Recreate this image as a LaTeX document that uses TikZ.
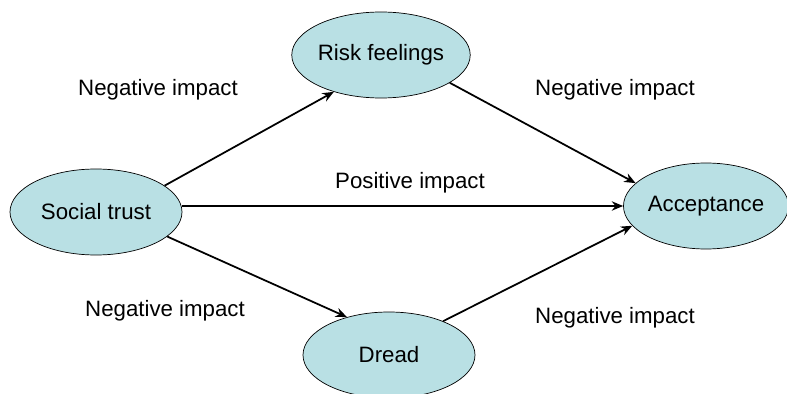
\documentclass[tikz,border=0pt]{standalone}
\usepackage{fontspec}
\setmainfont{Liberation Sans}
\usetikzlibrary{shapes.geometric,arrows.meta}
\definecolor{nodeblue}{RGB}{185,224,228}
\tikzset{
  factor/.style={ellipse,draw,line width=.6pt,fill=nodeblue,inner sep=0pt,
    minimum width=51.6mm,minimum height=25.8mm,font=\fontsize{19}{23}\selectfont},
  effect/.style={font=\fontsize{19}{23}\selectfont,inner sep=0pt},
  link/.style={line width=1.5pt,-{Stealth[length=3.4mm,width=2.8mm]}}
}
\begin{document}
\begin{tikzpicture}[x=.3mm,y=-.3mm]
    \useasboundingbox(0,0)rectangle(787,394);
    \node[factor](st)at(96,212){Social trust};
    \node[factor](rf)at(381,55){Risk feelings};
    \node[factor,minimum width=49.5mm](acc)at(706,206){Acceptance};
    \node[factor](dr)at(389,355){Dread};
    \node[effect](l1)at(158,90){Negative impact};
    \node[effect](l2)at(615,90){Negative impact};
    \node[effect](l3)at(410,183){Positive impact};
    \node[effect](l4)at(165,311){Negative impact};
    \node[effect](l5)at(615,318){Negative impact};
    \draw[link](st.21)--(rf.218);
    \draw[link](rf.-22)--(acc.162);
    \draw[link](st.east|-acc.west)--(acc.west);
    \draw[link](st.-19)--(dr.138);
    \draw[link](dr.32)--(acc.195);
\end{tikzpicture}
\end{document}
